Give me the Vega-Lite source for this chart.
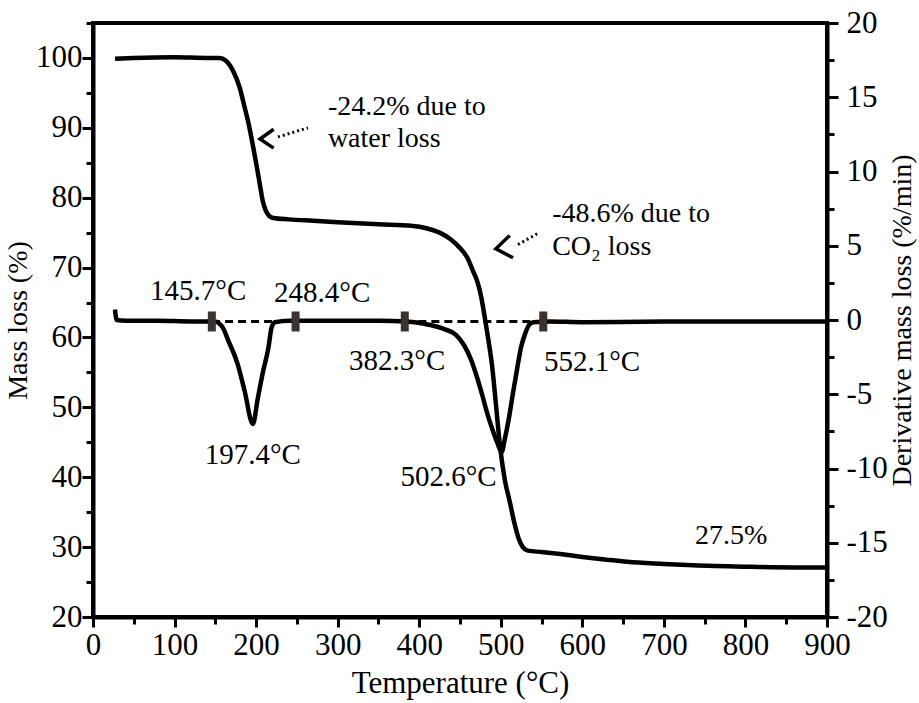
{
  "$schema": "https://vega.github.io/schema/vega-lite/v6.json",
  "width": 734,
  "height": 594,
  "autosize": {"type": "none"},
  "padding": {"left": 93, "top": 23, "right": 92, "bottom": 86},
  "background": "white",
  "config": {
    "view": {"stroke": "black", "strokeWidth": 4},
    "font": "Liberation Serif",
    "axis": {
      "domainColor": "black", "domainWidth": 4, "tickColor": "black", "tickWidth": 3,
      "grid": false, "labelFont": "Liberation Serif", "labelFontSize": 31, "labelColor": "black",
      "titleFont": "Liberation Serif", "titleFontSize": 28, "titleFontWeight": "normal", "titleColor": "black",
      "labelOverlap": false, "labelFlush": false
    }
  },
  "datasets": {
    "tg": [
      {"T": 27, "m": 99.9}, {"T": 50, "m": 100.0}, {"T": 100, "m": 100.1}, {"T": 140, "m": 100.0},
      {"T": 155, "m": 100.0}, {"T": 163, "m": 99.6}, {"T": 172, "m": 98.1}, {"T": 180, "m": 95.7},
      {"T": 186, "m": 92.9}, {"T": 190, "m": 91.0}, {"T": 196, "m": 87.5}, {"T": 201, "m": 84.3},
      {"T": 205, "m": 81.6}, {"T": 208, "m": 79.6}, {"T": 212, "m": 78.1}, {"T": 216, "m": 77.4},
      {"T": 221, "m": 77.1}, {"T": 240, "m": 76.9}, {"T": 270, "m": 76.7}, {"T": 300, "m": 76.5},
      {"T": 350, "m": 76.2}, {"T": 390, "m": 76.0}, {"T": 410, "m": 75.6}, {"T": 425, "m": 75.0},
      {"T": 438, "m": 74.1}, {"T": 450, "m": 72.8}, {"T": 459, "m": 71.4}, {"T": 466, "m": 69.5},
      {"T": 471, "m": 68.1}, {"T": 476, "m": 65.8}, {"T": 481, "m": 62.4}, {"T": 485, "m": 59.5},
      {"T": 489, "m": 56.3}, {"T": 494, "m": 50.5}, {"T": 499, "m": 44.5}, {"T": 505, "m": 39.6},
      {"T": 511, "m": 36.5}, {"T": 517, "m": 33.3}, {"T": 522, "m": 31.2}, {"T": 527, "m": 30.0},
      {"T": 533, "m": 29.5}, {"T": 550, "m": 29.3}, {"T": 573, "m": 29.0}, {"T": 600, "m": 28.6},
      {"T": 630, "m": 28.2}, {"T": 655, "m": 27.9}, {"T": 700, "m": 27.6}, {"T": 736, "m": 27.4},
      {"T": 800, "m": 27.2}, {"T": 858, "m": 27.1}, {"T": 898, "m": 27.1}
    ],
    "dtg": [
      {"T": 27, "d": 0.7}, {"T": 29, "d": 0.0}, {"T": 40, "d": -0.05}, {"T": 80, "d": -0.05},
      {"T": 120, "d": -0.1}, {"T": 150, "d": -0.1}, {"T": 154, "d": -0.2}, {"T": 159, "d": -0.5},
      {"T": 166, "d": -1.4}, {"T": 177, "d": -2.9}, {"T": 186, "d": -4.8}, {"T": 196, "d": -7.0},
      {"T": 202, "d": -5.3}, {"T": 208, "d": -3.6}, {"T": 215, "d": -1.9}, {"T": 219, "d": -0.5},
      {"T": 223, "d": -0.15}, {"T": 240, "d": -0.05}, {"T": 300, "d": -0.05}, {"T": 350, "d": -0.05},
      {"T": 385, "d": -0.1}, {"T": 400, "d": -0.2}, {"T": 415, "d": -0.35}, {"T": 430, "d": -0.6},
      {"T": 445, "d": -1.0}, {"T": 455, "d": -1.7}, {"T": 463, "d": -2.6}, {"T": 470, "d": -3.7},
      {"T": 477, "d": -5.0}, {"T": 484, "d": -6.4}, {"T": 490, "d": -7.4}, {"T": 496, "d": -8.3},
      {"T": 501, "d": -8.9}, {"T": 505, "d": -8.0}, {"T": 510, "d": -6.6}, {"T": 515, "d": -4.9},
      {"T": 520, "d": -3.3}, {"T": 525, "d": -1.8}, {"T": 530, "d": -0.9}, {"T": 535, "d": -0.3},
      {"T": 540, "d": -0.15}, {"T": 560, "d": -0.1}, {"T": 600, "d": -0.15}, {"T": 700, "d": -0.1},
      {"T": 800, "d": -0.1}, {"T": 898, "d": -0.1}
    ],
    "dash": [
      {"seg": "a", "T": 146, "d": -0.1}, {"seg": "a", "T": 247, "d": -0.1},
      {"seg": "b", "T": 383, "d": -0.1}, {"seg": "b", "T": 552, "d": -0.1}
    ],
    "marks": [
      {"T": 145.7, "d": -0.1}, {"T": 248.4, "d": -0.1}, {"T": 382.3, "d": -0.1}, {"T": 552.1, "d": -0.1}
    ],
    "temps": [
      {"T": 129, "d": 1.95, "label": "145.7°C"},
      {"T": 281, "d": 1.8, "label": "248.4°C"},
      {"T": 373, "d": -2.75, "label": "382.3°C"},
      {"T": 612, "d": -2.85, "label": "552.1°C"},
      {"T": 196, "d": -9.1, "label": "197.4°C"},
      {"T": 436, "d": -10.6, "label": "502.6°C"}
    ],
    "ann": [
      {"T": 288, "m": 93.0, "label": "-24.2% due to"},
      {"T": 288, "m": 88.4, "label": "water loss"},
      {"T": 563, "m": 77.7, "label": "-48.6% due to"},
      {"T": 563, "m": 72.9, "label": "CO₂ loss"},
      {"T": 738, "m": 31.6, "label": "27.5%"}
    ],
    "chev": [
      {"g": "w", "o": 1, "T": 221.5, "m": 89.8}, {"g": "w", "o": 2, "T": 204.8, "m": 88.4}, {"g": "w", "o": 3, "T": 221.5, "m": 87.1},
      {"g": "c", "o": 1, "T": 511.0, "m": 74.6}, {"g": "c", "o": 2, "T": 494.0, "m": 72.7}, {"g": "c", "o": 3, "T": 515.0, "m": 71.4}
    ],
    "dots": [
      {"g": "w", "T": 226.8, "m": 88.7}, {"g": "w", "T": 263.6, "m": 90.0},
      {"g": "c", "T": 521.1, "m": 73.3}, {"g": "c", "T": 545.6, "m": 74.9}
    ]
  },
  "encoding": {
    "x": {
      "field": "T", "type": "quantitative",
      "scale": {"domain": [0, 900], "nice": false, "zero": false},
      "axis": {
        "values": [0, 50, 100, 150, 200, 250, 300, 350, 400, 450, 500, 550, 600, 650, 700, 750, 800, 850, 900],
        "labelExpr": "datum.value % 100 === 0 ? '' + datum.value : ''",
        "tickSize": {"condition": {"test": "datum.value % 100 !== 0", "value": 7}, "value": 10},
        "labelPadding": 3,
        "title": "Temperature (°C)",
        "titleFontSize": 31,
        "titlePadding": 8
      }
    }
  },
  "layer": [
    {
      "encoding": {
        "y": {
          "field": "m", "type": "quantitative",
          "scale": {"domain": [20, 105], "nice": false, "zero": false},
          "axis": {
            "orient": "left",
            "values": [20, 25, 30, 35, 40, 45, 50, 55, 60, 65, 70, 75, 80, 85, 90, 95, 100, 105],
            "labelExpr": "datum.value % 10 === 0 ? '' + datum.value : ''",
            "tickSize": {"condition": {"test": "datum.value % 10 !== 0", "value": 7}, "value": 11},
            "labelPadding": 0,
            "title": "Mass loss (%)",
            "titlePadding": 3
          }
        }
      },
      "layer": [
        {
          "data": {"name": "tg"},
          "mark": {"type": "line", "color": "black", "strokeWidth": 4.5, "interpolate": "monotone"}
        },
        {
          "data": {"name": "ann"},
          "mark": {"type": "text", "align": "left", "baseline": "middle", "fontSize": 28, "font": "Liberation Serif", "color": "black"},
          "encoding": {"text": {"field": "label"}}
        },
        {
          "data": {"name": "chev"},
          "mark": {"type": "line", "color": "black", "strokeWidth": 3.5, "strokeJoin": "miter"},
          "encoding": {"detail": {"field": "g"}, "order": {"field": "o"}}
        },
        {
          "data": {"name": "dots"},
          "mark": {"type": "line", "color": "black", "strokeWidth": 3, "strokeDash": [2, 3]},
          "encoding": {"detail": {"field": "g"}}
        }
      ]
    },
    {
      "encoding": {
        "y": {
          "field": "d", "type": "quantitative",
          "scale": {"domain": [-20, 20], "nice": false, "zero": false},
          "axis": {
            "orient": "right",
            "values": [-20, -17.5, -15, -12.5, -10, -7.5, -5, -2.5, 0, 2.5, 5, 7.5, 10, 12.5, 15, 17.5, 20],
            "labelExpr": "datum.value % 5 === 0 ? '' + datum.value : ''",
            "tickSize": {"condition": {"test": "datum.value % 5 !== 0", "value": 7}, "value": 11},
            "labelPadding": 8,
            "title": "Derivative mass loss (%/min)",
            "titleAngle": -90,
            "titleBaseline": "top",
            "titlePadding": 1
          }
        }
      },
      "layer": [
        {
          "data": {"name": "dash"},
          "mark": {"type": "line", "color": "black", "strokeWidth": 3, "strokeDash": [8, 5]},
          "encoding": {"detail": {"field": "seg"}}
        },
        {
          "data": {"name": "dtg"},
          "mark": {"type": "line", "color": "black", "strokeWidth": 4.5, "interpolate": "monotone"}
        },
        {
          "data": {"name": "marks"},
          "mark": {"type": "tick", "orient": "vertical", "color": "#3a3330", "thickness": 8, "size": 20, "opacity": 1}
        },
        {
          "data": {"name": "temps"},
          "mark": {"type": "text", "align": "center", "baseline": "middle", "fontSize": 29, "font": "Liberation Serif", "color": "black"},
          "encoding": {"text": {"field": "label"}}
        }
      ]
    }
  ],
  "resolve": {"scale": {"y": "independent"}}
}
